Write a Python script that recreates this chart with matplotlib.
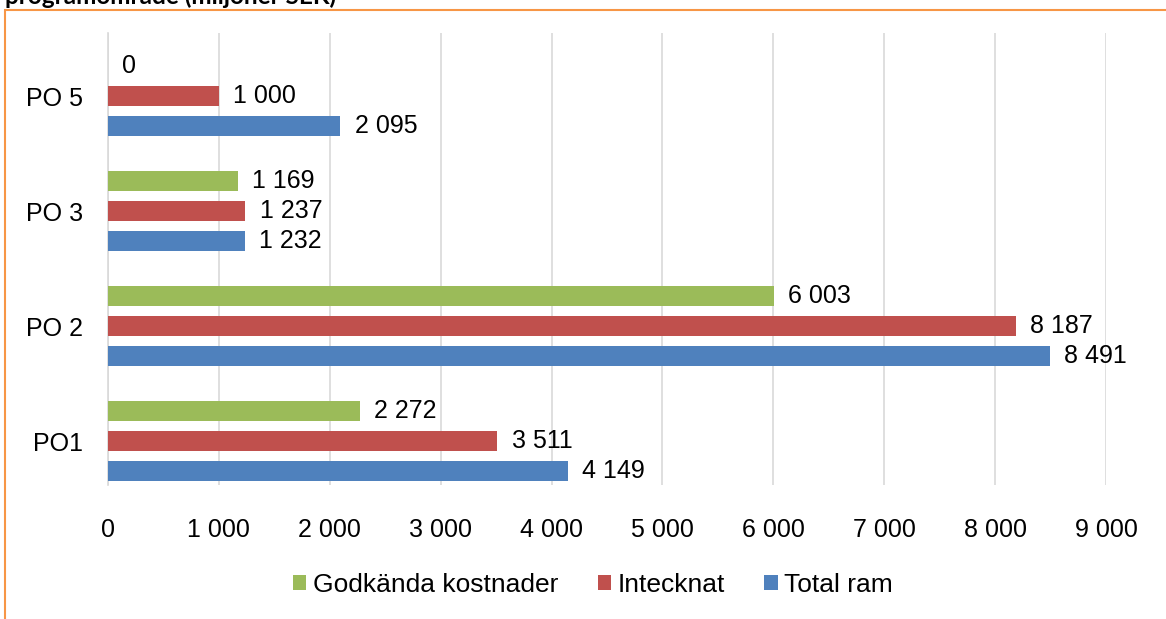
import matplotlib
matplotlib.use("Agg")
import matplotlib.pyplot as plt
from matplotlib.patches import Rectangle
from matplotlib.ticker import FuncFormatter
import numpy as np

categories = ["PO1", "PO 2", "PO 3", "PO 5"]
godkanda = [2272, 6003, 1169, 0]
intecknat = [3511, 8187, 1237, 1000]
total_ram = [4149, 8491, 1232, 2095]
series_names = ["Godkända kostnader", "Intecknat", "Total ram"]
colors = ["#9BBB59", "#C0504D", "#4F81BD"]
xticks = list(range(0, 9001, 1000))

def fmt(v):
    return f"{int(v):,}".replace(",", " ")

plt.rcParams['font.family'] = ['Liberation Sans', 'DejaVu Sans']
FS = 18

fig = plt.figure(figsize=(11.66, 6.19), dpi=100)
ax = fig.add_axes([108/1166, 1-485/619, (1106-108)/1166, (485-33)/619])

y = np.arange(len(categories))
off = 0.26
h = 0.175
data = [godkanda, intecknat, total_ram]
offsets = [off, 0, -off]
for vals, name, c, o in zip(data, series_names, colors, offsets):
    ax.barh(y + o, vals, height=h, color=c, label=name, zorder=3)
    for yy, v in zip(y + o, vals):
        ax.text(v + 130, yy, fmt(v), va='center', ha='left', fontsize=FS, color='black')

ax.set_xlim(0, 9000)
ax.set_ylim(-0.38, 3.55)
ax.set_xticks(xticks)
ax.xaxis.set_major_formatter(FuncFormatter(lambda v, p: fmt(v)))
ax.set_yticks(y)
ax.set_yticklabels(categories)
ax.tick_params(axis='both', length=0, labelsize=FS)
ax.tick_params(axis='x', pad=24)
ax.tick_params(axis='y', pad=18)
ax.grid(axis='x', color='#D9D9D9', linewidth=1.2, zorder=0)
for s in ['top', 'right', 'bottom']:
    ax.spines[s].set_visible(False)
ax.spines['left'].set_color('#D9D9D9')
ax.spines['left'].set_linewidth(1.2)

handles, labels = ax.get_legend_handles_labels()
fig.legend(handles, labels, loc='center', bbox_to_anchor=(593/1166, 1-585/619),
           ncol=3, frameon=False, fontsize=19, handlelength=0.5, handleheight=0.5,
           handletextpad=0.25, columnspacing=1.5)

# orange border (cropped frame)
fig.patches.append(Rectangle((5/1166, -0.1), 1.2, 1-10/619+0.1, transform=fig.transFigure,
                             fill=False, edgecolor='#F79646', linewidth=1.5))

fig.text(5/1166, 1-4/619, "programområde (miljoner SEK)", ha='left', va='baseline',
         fontsize=17.5, fontweight='bold', family=['Lato', 'DejaVu Sans'])

fig.savefig("out.png", dpi=100)
